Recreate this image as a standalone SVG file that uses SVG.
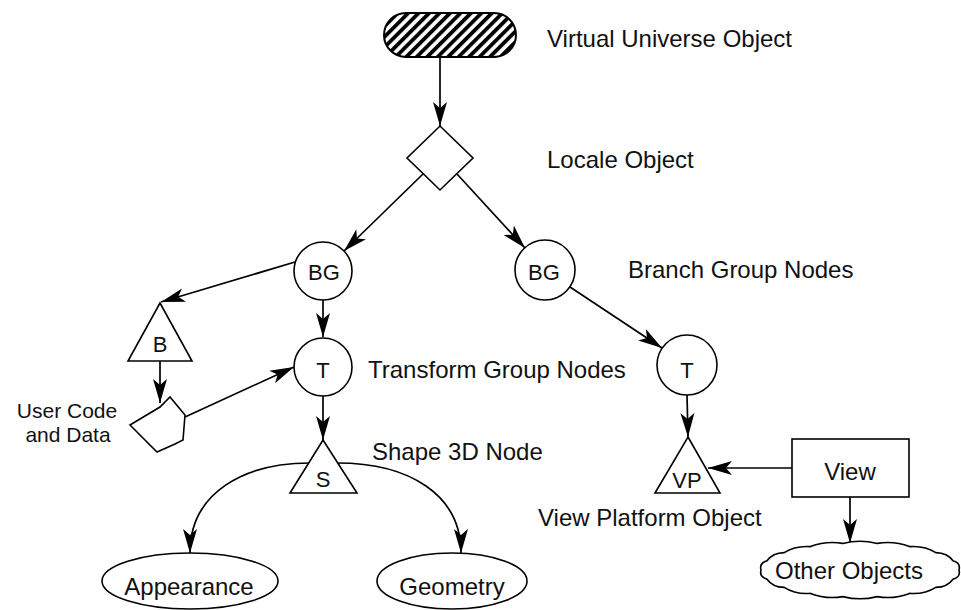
<svg xmlns="http://www.w3.org/2000/svg" width="961" height="610" viewBox="0 0 961 610">
<style>
.sh{fill:#fff;stroke:#000;stroke-width:1.6}
.ln{fill:none;stroke:#000;stroke-width:1.7;marker-end:url(#ah)}
.t{font-family:"Liberation Sans",Arial,sans-serif;font-size:24px;fill:#111}
.u{font-size:21px}
.n{font-family:"Liberation Sans",Arial,sans-serif;font-size:22px;fill:#111;text-anchor:middle}
.m{text-anchor:middle}
</style>
<defs>
<pattern id="hatch" patternUnits="userSpaceOnUse" width="7.4" height="7.4" patternTransform="rotate(45)">
<rect width="7.4" height="7.4" fill="#fff"/>
<rect width="3.8" height="7.4" fill="#000"/>
</pattern>
<marker id="ah" markerWidth="26" markerHeight="16" refX="24" refY="8" orient="auto" markerUnits="userSpaceOnUse" viewBox="0 0 26 16">
<path d="M0,1 L24,8 L0,15 L6,8 Z" fill="#000"/>
</marker>
</defs>
<rect width="961" height="610" fill="#fff"/>
<g id="connectors">
<path class="ln" d="M440,57 L440,126"/>
<path class="ln" d="M423,174 L344,251"/>
<path class="ln" d="M457,174 L525,248"/>
<path class="ln" d="M295,262 L161,302"/>
<path class="ln" d="M323,300 L323,337"/>
<path class="ln" d="M160,361 L160,403"/>
<path class="ln" d="M185,417 L294,367"/>
<path class="ln" d="M323,396 L323,440"/>
<path class="ln" d="M310,463 C245,463 190,492 190,553"/>
<path class="ln" d="M337,463 C410,463 461,495 461,553"/>
<path class="ln" d="M570,287 L662,348"/>
<path class="ln" d="M687,395 L688,437"/>
<path class="ln" d="M792,468 L708,468"/>
<path class="ln" d="M850,497 L850,543"/>
</g>
<g id="virtual-universe">
<rect x="384" y="13" width="132" height="44" rx="22" fill="url(#hatch)" stroke="#000" stroke-width="2"/>
<text class="t" x="547" y="47">Virtual Universe Object</text>
</g>
<g id="locale">
<path class="sh" d="M440,126 L473,158 L440,190 L407,158 Z"/>
<text class="t" x="547" y="168">Locale Object</text>
</g>
<g id="bg-left">
<circle class="sh" cx="323" cy="271" r="29"/>
<text class="n" x="324" y="280">BG</text>
</g>
<g id="bg-right">
<circle class="sh" cx="545" cy="270" r="30"/>
<text class="n" x="544" y="280">BG</text>
<text class="t" x="628" y="278">Branch Group Nodes</text>
</g>
<g id="behavior">
<path class="sh" d="M160,303 L192,361 L128,361 Z"/>
<text class="n" x="160" y="352">B</text>
</g>
<g id="user-code">
<path class="sh" d="M130,425 L160,407 L170,397 L185,415 L183,440 L175,444 L157,452 Z"/>
<text class="t u m" x="67" y="418">User Code</text>
<text class="t u m" x="68" y="442">and Data</text>
</g>
<g id="t-left">
<circle class="sh" cx="323" cy="367" r="29"/>
<text class="n" x="323" y="378">T</text>
<text class="t" x="368" y="378">Transform Group Nodes</text>
</g>
<g id="shape3d">
<path class="sh" d="M323,440 L357,493 L290,493 Z"/>
<text class="n" x="323" y="487">S</text>
<text class="t" x="372" y="460">Shape 3D Node</text>
</g>
<g id="appearance">
<ellipse class="sh" cx="190" cy="581" rx="88" ry="28"/>
<text class="t m" x="189" y="595">Appearance</text>
</g>
<g id="geometry">
<ellipse class="sh" cx="452" cy="581" rx="75" ry="28"/>
<text class="t m" x="452" y="595">Geometry</text>
</g>
<g id="t-right">
<circle class="sh" cx="687" cy="365" r="30"/>
<text class="n" x="687" y="378">T</text>
</g>
<g id="view-platform">
<path class="sh" d="M688,437 L720,493 L655,493 Z"/>
<text class="n" x="687" y="488">VP</text>
<text class="t" x="538" y="526">View Platform Object</text>
</g>
<g id="view">
<rect class="sh" x="792" y="439" width="117" height="58"/>
<text class="t m" x="850" y="480">View</text>
</g>
<g id="other-objects">
<path class="sh" d="M959,570 Q960.9,576.9 953,579.2 Q947.4,587.1 935.8,587.4 Q924.6,594.6 909.5,593.4 Q894.3,599.4 877.2,596.6 Q860,601 842.8,596.6 Q825.7,599.4 810.5,593.4 Q795.4,594.6 784.2,587.4 Q772.6,587.1 767,579.2 Q759.1,576.9 761,570 Q759.1,563.1 767,560.8 Q772.6,552.9 784.2,552.6 Q795.4,545.4 810.5,546.6 Q825.7,540.6 842.8,543.4 Q860,539 877.2,543.4 Q894.3,540.6 909.5,546.6 Q924.6,545.4 935.8,552.6 Q947.4,552.9 953,560.8 Q960.9,563.1 959,570 Z"/>
<text class="t m" x="849" y="579">Other Objects</text>
</g>
</svg>
